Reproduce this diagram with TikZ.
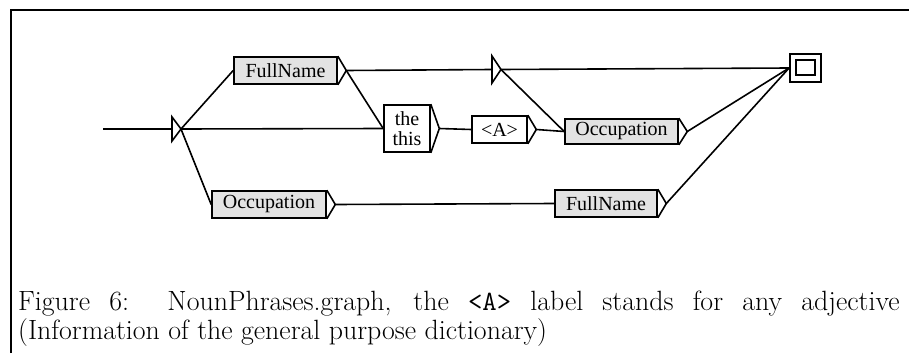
\documentclass[tikz,border=0pt]{standalone}
\usepackage{fontspec}
\newfontfamily\boxfont{Liberation Serif}
\begin{document}
\begin{tikzpicture}[x=1pt,y=-1pt,
  ln/.style={line width=1.6pt},
  bx/.style={draw,line width=1.6pt,inner sep=0pt,font=\boxfont\fontsize{20}{19.5}\selectfont,align=center},
  gbx/.style={bx,fill=gray!22},
  tri/.style={line width=1.6pt,line join=miter},
  captext/.style={anchor=base west,inner sep=0pt,font=\fontsize{24.88}{28}\selectfont}]
\useasboundingbox (0,0) rectangle (909,353);
% frame
\draw[line width=2.4pt] (11,353) -- (11,10) -- (909,10);
% initial state
\coordinate (in) at (103,129);
\coordinate (s0l) at (172,129);
\coordinate (s0) at (181,129);
\draw[tri] (172,117) -- (s0) -- (172,141) -- cycle;
% boxes
\node[gbx,minimum width=103pt,minimum height=27pt] (fn1) at (285.5,70.5) {FullName};
\node[bx,minimum width=46pt,minimum height=47pt] (tt) at (407,128.5) {the\\this};
\node[bx,minimum width=55pt,minimum height=27pt] (A) at (499.5,129.5) {<A>};
\node[gbx,minimum width=113pt,minimum height=25pt] (occ1) at (621.5,131.5) {Occupation};
\node[gbx,minimum width=114pt,minimum height=27pt] (occ2) at (269,204.5) {Occupation};
\node[gbx,minimum width=102pt,minimum height=27pt] (fn2) at (606,203.5) {FullName};
% output triangles
\foreach \b in {fn1,tt,A,occ1,occ2,fn2}{
  \coordinate (\b o) at ([xshift=8.5pt]\b.east);
  \draw[tri] (\b.north east) -- (\b o) -- (\b.south east);
}
% middle state
\coordinate (m0l) at (492,69.5);
\coordinate (m0) at (501,69.5);
\draw[tri] (492,56) -- (m0) -- (492,83) -- cycle;
% final state
\node[draw,line width=1.8pt,minimum width=31pt,minimum height=28pt,inner sep=0pt] (fin) at (805.5,68) {};
\node[draw,line width=1.8pt,minimum width=19pt,minimum height=15pt,inner sep=0pt] (fini) at (805.5,67.5) {};
% transitions
\draw[ln] (in) -- (s0l);
\draw[ln] (s0) -- (fn1.west);
\draw[ln] (s0) -- (tt.west);
\draw[ln] (s0) -- (occ2.west);
\draw[ln] (fn1o) -- (m0l);
\draw[ln] (fn1o) -- (tt.west);
\draw[ln] (tto) -- (A.west);
\draw[ln] (Ao) -- (occ1.west);
\draw[ln] (m0) -- (occ1.west);
\draw[ln] (m0) -- (fin.west);
\draw[ln] (occ1o) -- (fin.west);
\draw[ln] (occ2o) -- (fn2.west);
\draw[ln] (fn2o) -- (fin.west);
% caption
\node[captext] (c1) at (18,310) {\scalebox{1.12}{\makebox[787pt][s]{Figure 6:\ \ NounPhrases.graph, the \texttt{<A>} label stands for any adjective}}};
\node[captext] (c2) at (18,339) {\scalebox{1.12}{(Information of the general purpose dictionary)}};
\end{tikzpicture}
\end{document}
